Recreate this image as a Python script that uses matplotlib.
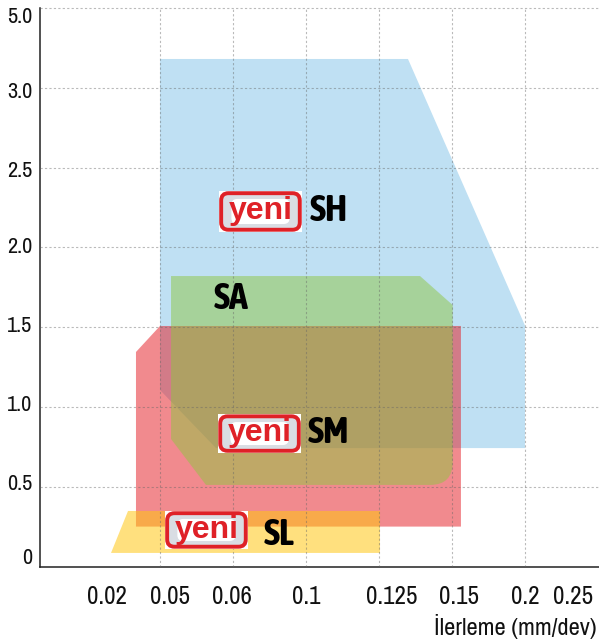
import matplotlib
matplotlib.use("Agg")
import matplotlib.pyplot as plt
from matplotlib.patches import Polygon, PathPatch, FancyBboxPatch, Rectangle
from matplotlib.path import Path

plt.rcParams["font.family"] = ["Archivo Narrow", "Liberation Sans", "DejaVu Sans"]

# x axis is an evenly spaced feed scale, y axis is broken above 3.0
feed_labels = ["0.02", "0.05", "0.06", "0.1", "0.125", "0.15", "0.2", "0.25"]
depth_labels = ["5.0", "3.0", "2.5", "2.0", "1.5", "1.0", "0.5", "0"]
grid_x = [1, 2, 3, 4, 5, 6]
grid_y = [0.5, 1.0, 1.5, 2.0, 2.5, 3.0, 3.5]

sh_x = [1.0, 4.397, 6.0, 6.0, 1.767, 1.0]
sh_y = [3.18, 3.18, 1.51, 0.742, 0.742, 1.106]
sm_x = [0.671, 1.0, 5.123, 5.123, 0.671]
sm_y = [1.344, 1.507, 1.507, 0.25, 0.25]
sl_x = [0.329, 0.562, 4.014, 4.014]
sl_y = [0.085, 0.348, 0.348, 0.085]
# SA has one rounded corner, the middle point of the curve is the control point
sa_x = [1.151, 4.562, 5.01, 5.01, 5.01, 4.70, 1.63, 1.151, 1.151]
sa_y = [1.82, 1.82, 1.638, 0.655, 0.511, 0.511, 0.511, 0.799, 1.82]

feed_label_pos = [0.274, 1.137, 1.986, 3.0, 4.178, 5.096, 6.0, 6.658]
depth_label_pos = [3.443, 2.973, 2.478, 2.002, 1.507, 1.012, 0.517, 0.053]

BLUE = "#BFE0F3"
RED = "#E5171F"
GREEN = "#8EC642"
YELLOW = "#FFC611"
BADGE_RED = "#DF2127"

fig = plt.figure(figsize=(5.99, 6.41), dpi=100)
ax = fig.add_axes([40.5 / 599, (641 - 566.5) / 641, (599 - 40.5) / 599, (566.5 - 7.9) / 641])
ax.set_xlim(-0.637, 7.014)
ax.set_ylim(0, 3.5)
ax.set_xticks([])
ax.set_yticks([])
for side in ["top", "right"]:
    ax.spines[side].set_visible(False)
for side in ["left", "bottom"]:
    ax.spines[side].set_color("#222222")
    ax.spines[side].set_linewidth(1.1)

ax.add_patch(Polygon(list(zip(sh_x, sh_y)), closed=True, fc=BLUE, ec="none", zorder=1))
ax.add_patch(Polygon(list(zip(sm_x, sm_y)), closed=True, fc=RED, ec="none", alpha=0.5, zorder=2))

sa_codes = [Path.MOVETO, Path.LINETO, Path.LINETO, Path.LINETO, Path.CURVE3, Path.CURVE3,
            Path.LINETO, Path.LINETO, Path.CLOSEPOLY]
sa_path = Path(list(zip(sa_x, sa_y)), sa_codes)
ax.add_patch(PathPatch(sa_path, fc=GREEN, ec="none", alpha=0.5, zorder=3))
ax.add_patch(Polygon(list(zip(sl_x, sl_y)), closed=True, fc=YELLOW, ec="none", alpha=0.54, zorder=4))

for gx in grid_x:
    ax.axvline(gx, color="#666666", lw=0.8, ls=(0, (2, 2)), alpha=0.45, zorder=5)
for gy in grid_y:
    ax.axhline(gy, color="#666666", lw=0.8, ls=(0, (2, 2)), alpha=0.45, zorder=5, clip_on=False)


def badge(x0, x1, y0, y1):
    w, h = x1 - x0, y1 - y0
    aspect = 73 / 159.6
    ax.add_patch(Rectangle((x0, y0), w, h, fc="white", ec="none", zorder=6))
    ax.add_patch(FancyBboxPatch((x0 + 0.03, y0 + 0.014), w - 0.06, h - 0.028,
                                boxstyle="round,pad=0,rounding_size=0.1", mutation_aspect=aspect,
                                fc="#D9DDE3", ec=BADGE_RED, lw=2.8, zorder=7))
    ax.add_patch(FancyBboxPatch((x0 + 0.17, y0 + 0.05), w - 0.34, h - 0.1,
                                boxstyle="round,pad=0,rounding_size=0.08", mutation_aspect=aspect,
                                fc="white", ec="none", zorder=8))
    ax.text((x0 + x1) / 2, (y0 + y1) / 2 + 0.002, "yeni", color=BADGE_RED, fontsize=23,
            fontweight="bold", family=["Liberation Sans", "DejaVu Sans"],
            ha="center", va="center", zorder=9)


badge(1.808, 2.945, 2.096, 2.353)
badge(1.795, 2.932, 0.711, 0.955)
badge(1.068, 2.205, 0.110, 0.348)

for label, x, y in [("SH", 3.308, 2.225), ("SA", 1.973, 1.674), ("SM", 3.308, 0.834), ("SL", 2.63, 0.195)]:
    ax.text(x, y, label, fontsize=27.5, fontweight="bold", color="black",
            family=["Asap Condensed", "Liberation Sans"], ha="center", va="center", zorder=9)

for label, x in zip(feed_labels, feed_label_pos):
    ax.text(x, -0.186, label, fontsize=18, color="#111111", ha="center", va="center")
for label, y in zip(depth_labels, depth_label_pos):
    ax.text(-0.745, y, label, fontsize=16, color="#111111", ha="right", va="center")
ax.text(6.986, -0.379, "İlerleme (mm/dev)", fontsize=17.7, color="#111111", ha="right", va="center")

fig.savefig("out.png", dpi=100)
